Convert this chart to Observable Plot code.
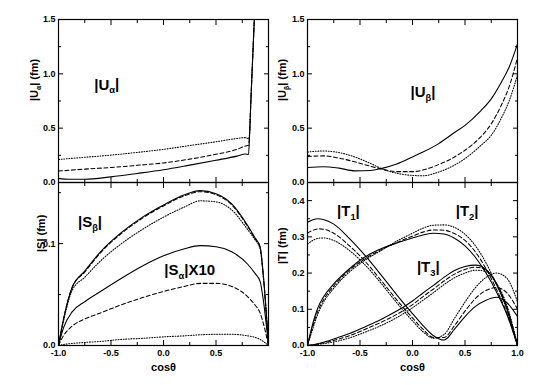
<!DOCTYPE html>
<html><head><meta charset="utf-8">
<script src="https://cdn.jsdelivr.net/npm/d3@7"></script>
<script src="https://cdn.jsdelivr.net/npm/@observablehq/plot@0.6"></script>
<style>
body{margin:0;background:#fff;}
#wrap{position:relative;width:556px;height:385px;}
#wrap svg{position:absolute;left:0;top:0;}
</style></head><body><div id="wrap"></div>
<script>
// ---------- data ----------
// |U_alpha| (top-left)
const xUa = [-1, -0.9, -0.75, -0.5, -0.25, 0, 0.25, 0.5, 0.7, 0.78, 0.81];
const UaSolid = [0.038, 0.03, 0.03, 0.052, 0.083, 0.117, 0.16, 0.205, 0.243, 0.262, 0.257];
const UaDash  = [0.105, 0.112, 0.123, 0.138, 0.158, 0.18, 0.215, 0.26, 0.305, 0.336, 0.343];
const UaDot   = [0.212, 0.22, 0.232, 0.252, 0.277, 0.305, 0.34, 0.375, 0.405, 0.413, 0.404];
const xSpike = [0.82, 0.83, 0.845, 0.865, 0.872];
const ySpike = [0.45, 0.7, 1.05, 1.5, 1.65];
// |U_beta| (top-right)
const xUb = [-1, -0.85, -0.7, -0.55, -0.4, -0.3, -0.15, 0, 0.1, 0.25, 0.4, 0.5, 0.65, 0.75, 0.85, 0.92, 1.0];
const UbSolid = [0.138, 0.145, 0.132, 0.107, 0.11, 0.128, 0.17, 0.235, 0.28, 0.358, 0.46, 0.526, 0.66, 0.77, 0.93, 1.06, 1.276];
const UbDash  = [0.24, 0.245, 0.225, 0.19, 0.15, 0.125, 0.1, 0.1, 0.115, 0.165, 0.235, 0.297, 0.42, 0.54, 0.72, 0.88, 1.15];
const UbDot   = [0.28, 0.29, 0.275, 0.235, 0.175, 0.13, 0.085, 0.065, 0.062, 0.097, 0.16, 0.22, 0.34, 0.434, 0.6, 0.75, 0.99];
// |S| (bottom-left)
const xS = [-1, -0.95, -0.87, -0.75, -0.6, -0.4, -0.2, 0, 0.2, 0.35, 0.5, 0.65, 0.8, 0.87, 0.92, 0.95, 1.0];
const SbSolid = [0, 0.027, 0.057, 0.073, 0.092, 0.111, 0.126, 0.138, 0.148, 0.152, 0.149, 0.139, 0.118, 0.106, 0.097, 0.07, 0];
const SbDash  = [0, 0.027, 0.057, 0.072, 0.091, 0.11, 0.125, 0.137, 0.147, 0.151, 0.148, 0.138, 0.117, 0.105, 0.096, 0.069, 0];
const SbDot   = [0, 0.025, 0.054, 0.067, 0.083, 0.1, 0.114, 0.126, 0.136, 0.142, 0.141, 0.133, 0.114, 0.104, 0.095, 0.068, 0];
const SaSolid = [0, 0.018, 0.033, 0.043, 0.053, 0.066, 0.078, 0.088, 0.095, 0.098, 0.097, 0.092, 0.08, 0.071, 0.063, 0.045, 0];
const SaDash  = [0, 0.01, 0.019, 0.026, 0.032, 0.04, 0.047, 0.053, 0.058, 0.061, 0.061, 0.058, 0.048, 0.04, 0.032, 0.022, 0];
const SaDot   = [0, 0.001, 0.002, 0.003, 0.004, 0.006, 0.007, 0.0085, 0.0095, 0.0105, 0.011, 0.011, 0.0095, 0.008, 0.006, 0.004, 0];
// |T| (bottom-right)
const xT = [-1, -0.95, -0.9, -0.85, -0.75, -0.6, -0.45, -0.3, -0.15, 0, 0.1, 0.2, 0.3, 0.4, 0.5, 0.6, 0.7, 0.8, 0.9, 1.0];
const T1Solid = [0.34, 0.347, 0.35, 0.348, 0.335, 0.295, 0.248, 0.195, 0.14, 0.088, 0.055, 0.027, 0.015, 0.045, 0.08, 0.108, 0.125, 0.133, 0.118, 0.08];
const T1Dash  = [0.31, 0.318, 0.322, 0.321, 0.31, 0.275, 0.232, 0.18, 0.126, 0.076, 0.045, 0.022, 0.022, 0.055, 0.095, 0.13, 0.152, 0.16, 0.145, 0.1];
const T1Dot   = [0.28, 0.29, 0.296, 0.297, 0.29, 0.262, 0.222, 0.172, 0.118, 0.068, 0.038, 0.02, 0.03, 0.075, 0.12, 0.16, 0.188, 0.2, 0.185, 0.12];
const T2Solid = [0, 0.06, 0.105, 0.133, 0.17, 0.212, 0.245, 0.267, 0.283, 0.297, 0.305, 0.31, 0.308, 0.296, 0.275, 0.243, 0.2, 0.148, 0.085, 0];
const T2Dash  = [0, 0.052, 0.096, 0.125, 0.164, 0.208, 0.24, 0.264, 0.284, 0.302, 0.313, 0.319, 0.318, 0.309, 0.29, 0.258, 0.212, 0.155, 0.088, 0];
const T2Dot   = [0, 0.046, 0.088, 0.118, 0.158, 0.203, 0.236, 0.262, 0.288, 0.31, 0.324, 0.332, 0.333, 0.326, 0.307, 0.275, 0.228, 0.168, 0.098, 0];
const T3Solid = [0, 0.002, 0.005, 0.009, 0.018, 0.033, 0.052, 0.072, 0.095, 0.123, 0.145, 0.166, 0.188, 0.207, 0.218, 0.222, 0.21, 0.17, 0.1, 0];
const T3Dash  = [0, 0.0015, 0.004, 0.007, 0.014, 0.027, 0.045, 0.064, 0.086, 0.113, 0.135, 0.156, 0.178, 0.197, 0.21, 0.216, 0.208, 0.17, 0.105, 0];
const T3Dot   = [0, 0.001, 0.003, 0.005, 0.01, 0.021, 0.037, 0.055, 0.077, 0.104, 0.125, 0.146, 0.168, 0.187, 0.2, 0.208, 0.204, 0.172, 0.11, 0];

// ticks / labels
const xMajor = [-1, -0.5, 0, 0.5, 1];
const xMinor = [-0.75, -0.25, 0.25, 0.75];
const xLabelsLeft = [-1, -0.5, 0, 0.5];
const xLabelsRight = [-1, -0.5, 0, 0.5, 1];
const yMajorU = [0, 0.5, 1.0, 1.5], yMinorU = [0.25, 0.75, 1.25];
const yMajorS = [0, 0.1], yMinorS = [0.05, 0.15];
const yMajorT = [0, 0.1, 0.2, 0.3, 0.4], yMinorT = [0.05, 0.15, 0.25, 0.35];
const xTitle = "cosθ";

// ---------- drawing ----------
const W = 556, H = 385;
const FONT = "'Liberation Sans', Arial, Helvetica, sans-serif";
const STY = {
  solid: {strokeWidth: 1.1},
  dash: {strokeWidth: 1.05, strokeDasharray: "4,2.5"},
  dot: {strokeWidth: 1.05, strokeDasharray: "1,1.6"}
};
const pts = (xs, ys) => xs.map((x, i) => ({x, y: ys[i]}));
const fmt = d => d.toFixed(1);

function subify(svg) {
  d3.select(svg).selectAll("text").each(function () {
    const t = this.textContent;
    if (!t.includes("_")) return;
    const parts = t.split(/_(.)/);
    const sel = d3.select(this);
    sel.text(null);
    let shifted = false;
    parts.forEach((p, i) => {
      if (i % 2 === 1) {
        sel.append("tspan").attr("dy", "0.4em").attr("font-size", "62%").text(p);
        shifted = true;
      } else if (p) {
        const ts = sel.append("tspan").text(p);
        if (shifted) { ts.attr("dy", "-0.25em"); shifted = false; }
      }
    });
  });
}

function panel(c) {
  const marks = [];
  for (const s of c.series) {
    marks.push(Plot.line(s.data, {x: "x", y: "y", stroke: "#000", curve: "monotone-x", clip: true, ...STY[s.style]}));
  }
  marks.push(Plot.frame({stroke: "#000", strokeWidth: 1.2}));
  for (const a of ["bottom", "top"]) {
    marks.push(Plot.axisX({anchor: a, ticks: xMajor, tickSize: -5, tickFormat: () => "", label: null}));
    marks.push(Plot.axisX({anchor: a, ticks: xMinor, tickSize: -3, tickFormat: () => "", label: null}));
  }
  for (const a of ["left", "right"]) {
    marks.push(Plot.axisY({anchor: a, ticks: c.yMajor, tickSize: -5, tickFormat: () => "", label: null}));
    marks.push(Plot.axisY({anchor: a, ticks: c.yMinor, tickSize: -3, tickFormat: () => "", label: null}));
  }
  marks.push(Plot.axisY({anchor: "left", ticks: c.yMajor, tickSize: 0, tickPadding: 3, tickFormat: fmt, label: null, fontWeight: "bold", fontSize: 9}));
  if (c.xLabels) {
    marks.push(Plot.axisX({anchor: "bottom", ticks: c.xLabels, tickSize: 0, tickPadding: 4, tickFormat: fmt, label: null, fontWeight: "bold", fontSize: 9}));
    marks.push(Plot.text([xTitle], {frameAnchor: "bottom", text: d => d, dy: 25, fontSize: 11, fontWeight: "bold"}));
  }
  marks.push(Plot.text([c.yTitle], {frameAnchor: "left", text: d => d, rotate: -90, dx: c.yTitleDx, dy: c.yTitleDy || 0, fontSize: 11, fontWeight: "bold"}));
  marks.push(Plot.text(c.notes, {x: "x", y: "y", text: "t", fontSize: 15, fontWeight: "bold"}));
  const svg = Plot.plot({
    width: W, height: H,
    marginLeft: c.left, marginRight: W - c.right, marginTop: c.top, marginBottom: H - c.bottom,
    x: {domain: [-1, 1], label: null},
    y: {domain: c.yDomain, label: null},
    style: {fontFamily: FONT, color: "#000", background: "transparent", overflow: "visible"},
    marks
  });
  subify(svg);
  document.getElementById("wrap").appendChild(svg);
}

const withSpike = (ys) => pts(xUa, ys).concat(pts(xSpike, ySpike));

panel({
  left: 58, right: 268, top: 19, bottom: 182,
  yDomain: [0, 1.5], yMajor: yMajorU, yMinor: yMinorU,
  yTitle: "|U_α| (fm)", yTitleDx: -24,
  series: [
    {data: withSpike(UaSolid), style: "solid"},
    {data: withSpike(UaDash), style: "dash"},
    {data: withSpike(UaDot), style: "dot"}
  ],
  notes: [{x: -0.54, y: 0.9, t: "|U_α|"}]
});
panel({
  left: 307, right: 517, top: 19, bottom: 182,
  yDomain: [0, 1.5], yMajor: yMajorU, yMinor: yMinorU,
  yTitle: "|U_β| (fm)", yTitleDx: -25,
  series: [
    {data: pts(xUb, UbSolid), style: "solid"},
    {data: pts(xUb, UbDash), style: "dash"},
    {data: pts(xUb, UbDot), style: "dot"}
  ],
  notes: [{x: 0.1, y: 0.83, t: "|U_β|"}]
});
panel({
  left: 58, right: 268, top: 182, bottom: 345,
  yDomain: [0, 0.16], yMajor: yMajorS, yMinor: yMinorS, xLabels: xLabelsLeft,
  yTitle: "|S| (fm)", yTitleDx: -17, yTitleDy: -12,
  series: [
    {data: pts(xS, SbSolid), style: "solid"},
    {data: pts(xS, SbDash), style: "dash"},
    {data: pts(xS, SbDot), style: "dot"},
    {data: pts(xS, SaSolid), style: "solid"},
    {data: pts(xS, SaDash), style: "dash"},
    {data: pts(xS, SaDot), style: "dot"}
  ],
  notes: [{x: -0.7, y: 0.121, t: "|S_β|"}, {x: 0.25, y: 0.074, t: "|S_α|X10"}]
});
panel({
  left: 307, right: 517, top: 182, bottom: 345,
  yDomain: [0, 0.45], yMajor: yMajorT, yMinor: yMinorT, xLabels: xLabelsRight,
  yTitle: "|T| (fm)", yTitleDx: -25,
  series: [
    {data: pts(xT, T1Solid), style: "solid"},
    {data: pts(xT, T1Dash), style: "dash"},
    {data: pts(xT, T1Dot), style: "dot"},
    {data: pts(xT, T2Solid), style: "solid"},
    {data: pts(xT, T2Dash), style: "dash"},
    {data: pts(xT, T2Dot), style: "dot"},
    {data: pts(xT, T3Solid), style: "solid"},
    {data: pts(xT, T3Dash), style: "dash"},
    {data: pts(xT, T3Dot), style: "dot"}
  ],
  notes: [{x: -0.61, y: 0.37, t: "|T_1|"}, {x: 0.52, y: 0.37, t: "|T_2|"}, {x: 0.15, y: 0.215, t: "|T_3|"}]
});
</script></body></html>
